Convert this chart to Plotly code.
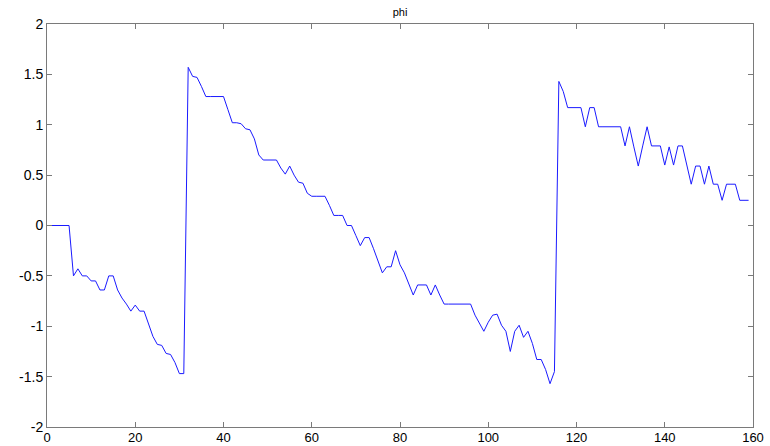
import plotly.graph_objects as go

# phi samples, one per step (step index 0..159)
phi = [
    0.00, 0.00, 0.00, 0.00, 0.00, 0.00, -0.50, -0.43, -0.50, -0.50,
    -0.55, -0.55, -0.64, -0.64, -0.50, -0.50, -0.64, -0.72, -0.78, -0.85,
    -0.79, -0.85, -0.85, -0.98, -1.10, -1.18, -1.19, -1.27, -1.28, -1.36,
    -1.47, -1.47, 1.57, 1.48, 1.47, 1.38, 1.28, 1.28, 1.28, 1.28,
    1.28, 1.15, 1.02, 1.02, 1.01, 0.96, 0.95, 0.86, 0.70, 0.65,
    0.65, 0.65, 0.65, 0.57, 0.51, 0.59, 0.50, 0.43, 0.42, 0.32,
    0.29, 0.29, 0.29, 0.29, 0.20, 0.10, 0.10, 0.10, 0.00, 0.00,
    -0.10, -0.20, -0.12, -0.12, -0.23, -0.35, -0.47, -0.41, -0.41, -0.25,
    -0.39, -0.47, -0.58, -0.69, -0.59, -0.59, -0.59, -0.69, -0.59, -0.69,
    -0.78, -0.78, -0.78, -0.78, -0.78, -0.78, -0.78, -0.89, -0.97, -1.05,
    -0.96, -0.89, -0.88, -0.99, -1.05, -1.25, -1.05, -0.99, -1.11, -1.05,
    -1.17, -1.33, -1.33, -1.43, -1.57, -1.45, 1.43, 1.33, 1.17, 1.17,
    1.17, 1.17, 0.98, 1.17, 1.17, 0.98, 0.98, 0.98, 0.98, 0.98,
    0.98, 0.79, 0.98, 0.78, 0.59, 0.79, 0.98, 0.79, 0.79, 0.79,
    0.60, 0.78, 0.60, 0.79, 0.79, 0.60, 0.41, 0.59, 0.59, 0.41,
    0.59, 0.41, 0.41, 0.25, 0.41, 0.41, 0.41, 0.25, 0.25, 0.25,
]
step = list(range(len(phi)))

x_ticks = [0, 20, 40, 60, 80, 100, 120, 140, 160]
x_labels = ["0", "20", "40", "60", "80", "100", "120", "140", "160"]
y_ticks = [-2, -1.5, -1, -0.5, 0, 0.5, 1, 1.5, 2]
y_labels = ["-2", "-1.5", "-1", "-0.5", "0", "0.5", "1", "1.5", "2"]

fig = go.Figure()
fig.add_trace(go.Scatter(
    x=step, y=phi, mode="lines",
    line=dict(color="#1a1aff", width=1),
    hoverinfo="skip",
))

font_main = "Liberation Sans, Arial, sans-serif"
axis_common = dict(
    showgrid=False, zeroline=False,
    showline=True, linecolor="#7a7a7a", linewidth=1,
    mirror="ticks", ticks="inside", ticklen=5, tickcolor="#7a7a7a",
    automargin=False,
)

fig.update_layout(
    width=770, height=446,
    margin=dict(l=47, r=17, t=24, b=19),
    paper_bgcolor="#ffffff", plot_bgcolor="#ffffff",
    showlegend=False,
    title=dict(
        text="phi", x=0.5, xanchor="center", xref="paper",
        y=1 - 12 / 446, yanchor="middle",
        font=dict(family=font_main, size=11, color="#000000"),
    ),
    xaxis=dict(range=[0, 160], tickvals=x_ticks, ticktext=x_labels,
               tickfont=dict(family=font_main, size=13, color="#000000"),
               ticklabelstandoff=-2, **axis_common),
    yaxis=dict(range=[-2, 2], tickvals=y_ticks, ticktext=y_labels,
               tickfont=dict(family=font_main, size=14, color="#000000"),
               **axis_common),
)

fig.write_html("out.html")
